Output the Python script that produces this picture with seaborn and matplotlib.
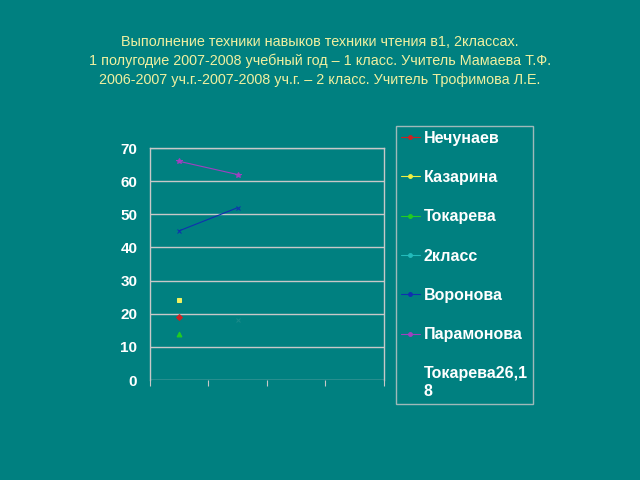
"""Reading technique chart, 1-2 classes"""
import matplotlib
matplotlib.use("Agg")
import matplotlib.pyplot as plt
from matplotlib.lines import Line2D
import numpy as np
import pandas as pd
import seaborn as sns

categories = ["1", "2", "3", "4"]
nechunaev = [19, np.nan, np.nan, np.nan]
kazarina = [24, np.nan, np.nan, np.nan]
tokareva = [14, np.nan, np.nan, np.nan]
klass2 = [np.nan, 18, np.nan, np.nan]
voronova = [45, 52, np.nan, np.nan]
paramonova = [66, 62, np.nan, np.nan]

series = {
    "Нечунаев": nechunaev,
    "Казарина": kazarina,
    "Токарева": tokareva,
    "2класс": klass2,
    "Воронова": voronova,
    "Парамонова": paramonova,
}
# (line colour, marker, plot marker colour, marker size)
styles = {
    "Нечунаев": ("#CC2222", "D", "#CC2222", 3),
    "Казарина": ("#F0F040", "s", "#F0F060", 3.5),
    "Токарева": ("#22CC22", "^", "#22CC22", 3.5),
    "2класс": ("#22BBBB", "x", "#1A8A8A", 3.5),
    "Воронова": ("#1030B0", "x", "#1030B0", 3.5),
    "Парамонова": ("#A040C0", "*", "#A040C0", 4),
}

BG = "#008080"
GRID = "#C8C8C8"
sns.set_style("white")
plt.rcParams["font.family"] = ["Liberation Sans", "DejaVu Sans"]

fig = plt.figure(figsize=(6.4, 4.8), dpi=100, facecolor=BG)
ax = fig.add_axes([0.234, 0.2083, 0.366, 0.4833])
ax.set_facecolor(BG)

x = np.arange(len(categories))
for name, vals in series.items():
    color, marker, mcolor, msize = styles[name]
    df = pd.DataFrame({"x": x, "y": vals})
    sns.lineplot(data=df, x="x", y="y", ax=ax, color=color, marker=marker,
                 markersize=msize, markeredgecolor=mcolor,
                 markerfacecolor=mcolor, linewidth=0.8, legend=False)

ax.set_xlim(-0.5, len(categories) - 0.5)
ax.set_ylim(0, 70)
ax.set_yticks(range(0, 71, 10))
ax.set_xticks(np.arange(-0.5, len(categories), 1.0))
ax.set_xticklabels([])
ax.set_xlabel("")
ax.set_ylabel("")
ax.grid(axis="y", color=GRID, linewidth=1)
ax.grid(axis="x", visible=False)
for s in ["left", "right", "top"]:
    ax.spines[s].set_color(GRID)
    ax.spines[s].set_linewidth(1)
ax.spines["bottom"].set_visible(False)
ax.tick_params(axis="y", length=0, pad=9, labelcolor="white", labelsize=11)
ax.tick_params(axis="x", direction="out", length=4, color=GRID, bottom=True)
for lbl in ax.get_yticklabels():
    lbl.set_fontweight("bold")

handles = [Line2D([], [], color=st[0], marker="o", markersize=2.5,
                  linewidth=0.8) for st in styles.values()]
labels = list(series.keys())
handles.append(Line2D([], [], color=BG, linewidth=0))
labels.append("Токарева26,1\n8")
leg = fig.legend(handles, labels, loc="upper left",
                 bbox_to_anchor=(396 / 640, 1 - 126 / 480), frameon=True,
                 fontsize=11.5, labelspacing=1.52, handlelength=1.2,
                 handletextpad=0.25, borderpad=0.3, borderaxespad=0)
leg.get_frame().set_facecolor(BG)
leg.get_frame().set_edgecolor(GRID)
leg.get_frame().set_boxstyle("square", pad=0)
for t in leg.get_texts():
    t.set_color("white")
    t.set_fontweight("bold")

fig.text(0.5, 1 - 61 / 480,
         "Выполнение техники навыков техники чтения в1, 2классах.\n"
         "1 полугодие 2007-2008 учебный год – 1 класс. Учитель Мамаева Т.Ф.\n"
         "2006-2007 уч.г.-2007-2008 уч.г. – 2 класс. Учитель Трофимова Л.Е.",
         ha="center", va="center", color="#F0F0A0", fontsize=10.4,
         linespacing=1.45)

fig.savefig("out.png", dpi=100, facecolor=BG)
